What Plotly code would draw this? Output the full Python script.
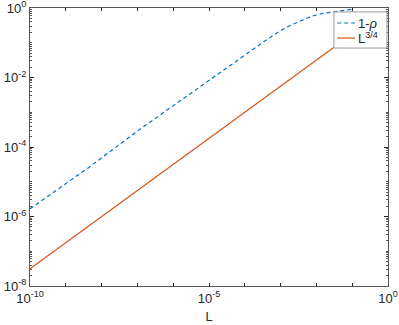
import plotly.graph_objects as go

# 1-rho curve, values
L_rho = [1e-10, 4.2e-9, 1.2e-7, 6.0e-5, 1.74e-4, 3.63e-4, 7.76e-4, 1.62e-3,
         3.47e-3, 7.41e-3, 1.55e-2, 3.31e-2, 8.7e-2, 0.105]
one_minus_rho = [1.66e-6, 2.5e-5, 3.3e-4, 3.16e-2, 0.069, 0.112, 0.19, 0.295,
                 0.417, 0.582, 0.70, 0.794, 0.90, 0.933]

# L^(3/4) reference line (straight in log-log)
L_pow = [1e-10, 1e-5, 0.1]
pow34 = [3.16e-8, 1.78e-4, 0.178]

series_names = ["1-<i>ρ</i>", "L<sup>3/4</sup>"]

x_major = [10.0 ** e for e in range(-10, 1)]
x_labels = ["10<sup>-10</sup>" if e == -10 else "10<sup>-5</sup>" if e == -5
            else "10<sup>0</sup>" if e == 0 else "" for e in range(-10, 1)]
y_major = [10.0 ** e for e in range(-8, 1, 2)]
y_labels = ["10<sup>%d</sup>" % e for e in range(-8, 1, 2)]
y_minor = [k * 10.0 ** e for e in range(-8, 0) for k in range(1, 10)
           if not (k == 1 and e % 2 == 0)]

blue = "#0072BD"
orange = "#D95319"
axcol = "#262626"
font = dict(family="Liberation Sans, Arial, sans-serif", size=13, color=axcol)

fig = go.Figure()
fig.add_trace(go.Scatter(x=L_rho, y=one_minus_rho, mode="lines", name=series_names[0],
                         line=dict(color=blue, width=1.2, dash="4px,3px")))
fig.add_trace(go.Scatter(x=L_pow, y=pow34, mode="lines", name=series_names[1],
                         line=dict(color=orange, width=1.2)))

# MATLAB-style compact legend box in the upper right corner
fig.add_shape(type="rect", xref="paper", yref="paper", x0=0.849, x1=0.997,
              y0=0.856, y1=0.986, fillcolor="white", line=dict(color="#9a9a9a", width=1))
leg_y = [0.946, 0.892]
leg_style = [dict(color=blue, width=1.2, dash="4px,3px"), dict(color=orange, width=1.2)]
for name, yy, st in zip(series_names, leg_y, leg_style):
    fig.add_shape(type="line", xref="paper", yref="paper", x0=0.858, x1=0.908,
                  y0=yy, y1=yy, line=st)
    fig.add_annotation(xref="paper", yref="paper", x=0.912, y=yy, text=name,
                       showarrow=False, xanchor="left", yanchor="middle",
                       font=font)

fig.update_layout(
    width=399, height=325,
    margin=dict(l=30, r=11, t=8, b=39),
    paper_bgcolor="white", plot_bgcolor="white",
    font=font,
    showlegend=False,
    xaxis=dict(type="log", range=[-10, 0], tickmode="array",
               tickvals=x_major, ticktext=x_labels, automargin=False,
               ticklabeloverflow="allow",
               ticks="inside", ticklen=3, tickcolor=axcol,
               showline=True, linecolor="#555", linewidth=1, mirror="allticks",
               showgrid=False, zeroline=False,
               title=dict(text="L", standoff=7, font=font)),
    yaxis=dict(type="log", range=[-8, 0], tickmode="array",
               tickvals=y_major, ticktext=y_labels, automargin=False,
               ticklabeloverflow="allow",
               ticks="inside", ticklen=4, tickcolor=axcol,
               showline=True, linecolor="#555", linewidth=1, mirror="allticks",
               showgrid=False, zeroline=False,
               minor=dict(tickmode="array", tickvals=y_minor, ticks="inside",
                          ticklen=2, tickcolor="#555", showgrid=False)),
)

# page body has a default 8px margin; drop it so the figure fills the window
fig.write_html("out.html", config={"displayModeBar": False},
               post_script="document.body.style.margin='0';")
